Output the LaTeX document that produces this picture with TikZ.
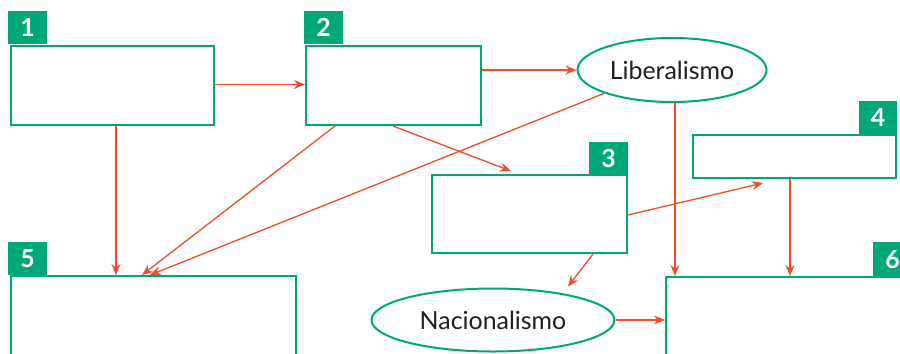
\documentclass[tikz,border=0pt]{standalone}
\usepackage{fontspec}
\setmainfont{Lato}
\usetikzlibrary{arrows.meta,shapes.geometric,calc}
\definecolor{grn}{HTML}{00A878}
\definecolor{arr}{HTML}{F04E2A}
\definecolor{txt}{HTML}{231F20}
\tikzset{
  box/.style={draw=grn,line width=2bp,rectangle,inner sep=0pt,anchor=north west},
  tab/.style={fill=grn,rectangle,inner sep=0pt,anchor=north west,minimum width=39bp,minimum height=33bp,text=white,font=\fontsize{25}{25}\selectfont\bfseries},
  oval/.style={draw=grn,line width=2bp,ellipse,inner sep=0pt,text=txt,font=\fontsize{25}{26}\selectfont},
  con/.style={draw=arr,line width=1.3bp,-{Stealth[length=11bp,width=9bp]}},
}
\begin{document}
\begin{tikzpicture}[x=1bp,y=-1bp]
\clip (0,0) rectangle (900,353);
\fill[white] (0,0) rectangle (900,353);
% boxes
\node[box,minimum width=203bp,minimum height=79bp] (b1) at (10,45) {};
\node[box,minimum width=175bp,minimum height=79bp] (b2) at (305,45) {};
\node[box,minimum width=195bp,minimum height=78bp] (b3) at (431,174) {};
\node[box,minimum width=203bp,minimum height=43bp] (b4) at (692,134) {};
\node[box,minimum width=285bp,minimum height=90bp] (b5) at (10,275) {};
\node[box,minimum width=250bp,minimum height=90bp] (b6) at (665,276) {};
% tabs
\node[tab] (t1) at (8,11) {1};
\node[tab] (t2) at (304,11) {2};
\node[tab,minimum height=32bp] (t3) at (589,142) {3};
\node[tab,minimum width=38bp,minimum height=33bp] (t4) at (859,101) {4};
\node[tab] (t5) at (8,242) {5};
\node[tab,minimum width=45bp,minimum height=34bp] (t6) at (873,242) {\hspace*{-6bp}6};
% ellipses
\node[oval,minimum width=189bp,minimum height=64bp] (lib) at (672,70) {Liberalismo};
\node[oval,minimum width=243bp,minimum height=63bp] (nac) at (493,320) {Nacionalismo};
% anchor points
\coordinate (p1) at ($(lib.south)+(3,0)$);
\coordinate (p2) at ($(b1.south west)+(106,0)$);
\coordinate (p3) at ($(b4.south west)+(98,0)$);
% connectors
\draw[con] ($(b1.east)+(0,-1)$) -- ($(b1.east -| b2.west)+(0,-1)$);
\draw[con] (b2.east |- lib.west) -- (lib.west);
\draw[con] (p1) -- (p1 |- b6.north);
\draw[con] (p2) -- (p2 |- b5.north);
\draw[con] ($(b2.south west)+(30,0)$) -- ($(b5.north west)+(132,0)$);
\draw[con] (lib.199) -- ($(b5.north west)+(140,0)$);
\draw[con] ($(b2.south west)+(88,0)$) -- ($(b3.north west)+(80,-3)$);
\draw[con] ($(b3.east)+(0,1)$) -- ($(b4.south west)+(71,4)$);
\draw[con] (p3) -- (p3 |- b6.north);
\draw[con] ($(b3.south west)+(162,0)$) -- ($(nac.north)+(75,-1)$);
\draw[con] (nac.east) -- (nac.east -| b6.west);
\end{tikzpicture}
\end{document}
